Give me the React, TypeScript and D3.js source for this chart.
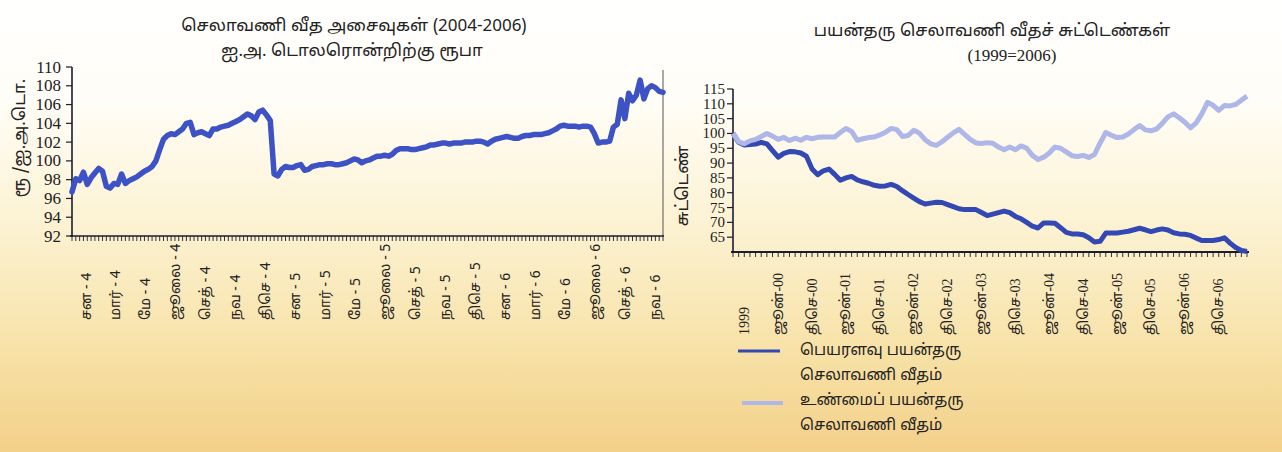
import React from 'react';
import * as d3 from 'd3';

// ---------- LEFT CHART DATA ----------
const leftTitle = ['செலாவணி வீத அசைவுகள் (2004-2006)', 'ஐ.அ. டொலரொன்றிற்கு ரூபா'];
const leftYLabel = 'ரூ /ஐ.அ.டொ.';
const leftYTicks = [92, 94, 96, 98, 100, 102, 104, 106, 108, 110];
const leftXLabels = [
  'சன - 4', 'மார் - 4', 'மே - 4', 'ஜூலை - 4', 'செத் - 4', 'நவ - 4', 'திசெ - 4',
  'சன - 5', 'மார் - 5', 'மே - 5', 'ஜூலை - 5', 'செத் - 5', 'நவ - 5', 'திசெ - 5',
  'சன - 6', 'மார் - 6', 'மே - 6', 'ஜூலை - 6', 'செத் - 6', 'நவ - 6',
];
// weekly rupees per US dollar, 2004-2006
const rupeePerDollar = [
  96.7, 98.1, 97.9, 98.8, 97.5, 98.2, 98.7, 99.2, 98.9, 97.3,
  97.1, 97.6, 97.5, 98.6, 97.6, 97.9, 98.1, 98.3, 98.6, 98.9,
  99.1, 99.4, 100, 101.2, 102.3, 102.7, 102.9, 102.8, 103.1, 103.4,
  104, 104.1, 102.8, 103, 103.1, 102.9, 102.7, 103.4, 103.4, 103.6,
  103.7, 103.8, 104, 104.2, 104.4, 104.7, 105, 104.8, 104.4, 105.2,
  105.4, 104.9, 104.3, 98.6, 98.4, 99.1, 99.4, 99.3, 99.3, 99.5,
  99.6, 99, 99.1, 99.4, 99.5, 99.6, 99.6, 99.7, 99.7, 99.6,
  99.6, 99.7, 99.8, 100, 100.2, 100.1, 99.8, 100, 100.1, 100.3,
  100.5, 100.5, 100.6, 100.5, 100.7, 101.1, 101.3, 101.3, 101.3, 101.2,
  101.2, 101.3, 101.4, 101.5, 101.7, 101.7, 101.8, 101.9, 101.9, 101.8,
  101.9, 101.9, 101.9, 102, 102, 102, 102.1, 102.1, 102, 101.8,
  102.1, 102.3, 102.4, 102.5, 102.6, 102.5, 102.4, 102.4, 102.6, 102.7,
  102.7, 102.8, 102.8, 102.8, 102.9, 103, 103.2, 103.4, 103.7, 103.8,
  103.7, 103.7, 103.7, 103.6, 103.7, 103.7, 103.6, 102.9, 101.9, 102,
  102, 102.1, 103.6, 103.9, 106.5, 104.5, 107.2, 106.4, 107, 108.6,
  106.6, 107.7, 108, 107.8, 107.4, 107.3,
];

// ---------- RIGHT CHART DATA ----------
const rightTitle = ['பயன்தரு செலாவணி வீதச் சுட்டெண்கள்', '(1999=2006)'];
const rightYLabel = 'சுட்டெண்';
const rightYTicks = [65, 70, 75, 80, 85, 90, 95, 100, 105, 110, 115];
const rightXLabels = [
  '1999', 'ஜூன்-00', 'திசெ-00', 'ஜூன்-01', 'திசெ-01', 'ஜூன்-02', 'திசெ-02', 'ஜூன்-03',
  'திசெ-03', 'ஜூன்-04', 'திசெ-04', 'ஜூன்-05', 'திசெ-05', 'ஜூன்-06', 'திசெ-06',
];
const rightXLabelMonth = [2, 8, 14, 20, 26, 32, 38, 44, 50, 56, 62, 68, 74, 80, 86];
// monthly indices
const nominalRate = [
  100, 97, 96.1, 96.3, 96.4, 97, 96.5, 94.2, 92, 93.3,
  93.9, 93.8, 93.4, 92.3, 88, 86.1, 87.4, 88, 86.2, 84.2,
  85, 85.5, 84.3, 83.7, 83.2, 82.5, 82.2, 82.3, 82.8, 82.1,
  80.7, 79.4, 78.2, 77, 76.2, 76.5, 76.8, 76.7, 76, 75.3,
  74.6, 74.3, 74.3, 74.3, 73.3, 72.3, 72.8, 73.3, 73.8, 73.3,
  72, 71.2, 70, 68.7, 68.1, 69.8, 69.8, 69.7, 68.2, 66.6,
  66.1, 66.1, 65.8, 64.8, 63.4, 63.6, 66.4, 66.4, 66.4, 66.7,
  67, 67.5, 68, 67.5, 66.9, 67.4, 67.8, 67.4, 66.5, 66.1,
  66, 65.6, 64.7, 63.9, 63.9, 63.9, 64.2, 64.8, 63, 61.5,
  60.5, 60.2,
];
const realRate = [
  100, 97.2, 96.5, 97.5, 98, 99, 100, 99.1, 98, 98.7,
  97.6, 98.4, 97.7, 98.7, 98.2, 98.7, 98.8, 98.8, 98.8, 100.3,
  101.7, 100.7, 97.7, 98.2, 98.6, 98.8, 99.5, 100.4, 101.7, 101.3,
  99, 99.3, 101.1, 100.1, 97.9, 96.5, 96, 97.2, 98.7, 100.2,
  101.4, 99.7, 98, 96.8, 96.6, 96.9, 96.7, 95.4, 94.5, 95.4,
  94.5, 95.8, 95, 92.6, 91.2, 92, 93.4, 95.4, 95, 93.8,
  92.5, 92.2, 92.6, 91.9, 92.9, 96.8, 100.3, 99.4, 98.6, 98.8,
  99.8, 101.3, 102.7, 101.2, 100.9, 101.5, 103.4, 105.6, 106.6, 105.3,
  103.8, 101.9, 103.6, 106.6, 110.5, 109.5, 107.8, 109.4, 109.3, 109.8,
  111.2, 112.6,
];
const legendLabels = [
  ['பெயரளவு பயன்தரு', 'செலாவணி வீதம்'],
  ['உண்மைப் பயன்தரு', 'செலாவணி வீதம்'],
];

const TAMIL = '"Noto Sans Tamil", "Lohit Tamil", "Latha", "FreeSans", "Noto Sans", sans-serif';
const SERIF = '"Liberation Serif", "Times New Roman", "DejaVu Serif", serif';

const DARK = '#3d52c4';
const NOMINAL = '#3448b4';
const REAL = '#aeb7e8';
const AXIS = '#1c1c30';

export default function App() {
  const W = 1282;
  const H = 452;

  // left scales
  const lx = d3.scaleLinear().domain([0, rupeePerDollar.length - 1]).range([72, 663]);
  const ly = d3.scaleLinear().domain([92, 110]).range([236, 67]);
  const lLab = d3.scalePoint<string>().domain(leftXLabels).range([87, 656]);
  const leftPath = d3
    .line<number>()
    .x((_, i) => lx(i))
    .y((d) => ly(d))(rupeePerDollar) as string;

  // right scales
  const rx = d3.scaleLinear().domain([0, nominalRate.length - 1]).range([733, 1247]);
  const ry = d3.scaleLinear().domain([60, 115]).range([252, 89]);
  const rLine = d3
    .line<number>()
    .x((_, i) => rx(i))
    .y((d) => ry(d));
  const nominalPath = rLine(nominalRate) as string;
  const realPath = rLine(realRate) as string;

  const leftTicksX = d3.range(0, rupeePerDollar.length, 1);
  const rightTicksX = d3.range(0, nominalRate.length, 1);

  return (
    <svg
      width={W}
      height={H}
      viewBox={`0 0 ${W} ${H}`}
      style={{ position: 'absolute', left: 0, top: 0, display: 'block' }}
    >
      <defs>
        <linearGradient id="bg" x1="0" y1="0" x2="0" y2="1">
          <stop offset="0%" stopColor="#ffffff" />
          <stop offset="22%" stopColor="#fffdf7" />
          <stop offset="50%" stopColor="#fcf2d2" />
          <stop offset="78%" stopColor="#f7e1a6" />
          <stop offset="100%" stopColor="#f3d089" />
        </linearGradient>
      </defs>
      <rect x={0} y={0} width={W} height={H} fill="url(#bg)" />

      {/* ---------- LEFT CHART ---------- */}
      <g fontFamily={TAMIL} fill="#222">
        <text x={354} y={31} textAnchor="middle" fontSize={17}>{leftTitle[0]}</text>
        <text x={352} y={56} textAnchor="middle" fontSize={17}>{leftTitle[1]}</text>
      </g>
      <text
        transform={`translate(20,138) rotate(-90)`}
        textAnchor="middle"
        dominantBaseline="central"
        fontFamily={TAMIL}
        fontSize={17}
        fill="#222"
      >
        {leftYLabel}
      </text>
      {leftYTicks.map((t) => (
        <g key={`ly${t}`}>
          <line x1={66} x2={72} y1={ly(t)} y2={ly(t)} stroke={AXIS} strokeWidth={1.2} />
          <text
            x={61}
            y={ly(t)}
            textAnchor="end"
            dominantBaseline="central"
            fontFamily={SERIF}
            fontSize={17}
            fill="#222"
          >
            {t}
          </text>
        </g>
      ))}
      <line x1={72} x2={72} y1={ly(110)} y2={ly(92) + 1} stroke={AXIS} strokeWidth={1.6} />
      <line x1={663} x2={663} y1={70} y2={ly(92)} stroke="#555" strokeWidth={1} />
      <line x1={70} x2={664} y1={ly(92)} y2={ly(92)} stroke={AXIS} strokeWidth={1.6} />
      {leftTicksX.map((i) => (
        <line key={`lt${i}`} x1={lx(i)} x2={lx(i)} y1={ly(92)} y2={ly(92) + 5} stroke={AXIS} strokeWidth={0.9} />
      ))}
      <path d={leftPath} fill="none" stroke={DARK} strokeWidth={5.5} strokeLinejoin="round" strokeLinecap="round" />
      {leftXLabels.map((l) => (
        <text
          key={`lx${l}`}
          transform={`translate(${lLab(l)},320) rotate(-90)`}
          textAnchor="start"
          dominantBaseline="central"
          fontFamily={TAMIL}
          fontSize={14}
          fill="#222"
        >
          {l}
        </text>
      ))}

      {/* ---------- RIGHT CHART ---------- */}
      <g fontFamily={TAMIL} fill="#222">
        <text x={992} y={36} textAnchor="middle" fontSize={17}>{rightTitle[0]}</text>
      </g>
      <text x={1012} y={61} textAnchor="middle" fontFamily={SERIF} fontSize={17} fill="#222">
        {rightTitle[1]}
      </text>
      <text
        transform={`translate(683,186) rotate(-90)`}
        textAnchor="middle"
        dominantBaseline="central"
        fontFamily={TAMIL}
        fontSize={17}
        fill="#222"
      >
        {rightYLabel}
      </text>
      {rightYTicks.map((t) => (
        <g key={`ry${t}`}>
          <line x1={727} x2={733} y1={ry(t)} y2={ry(t)} stroke={AXIS} strokeWidth={1.2} />
          <text
            x={725}
            y={ry(t)}
            textAnchor="end"
            dominantBaseline="central"
            fontFamily={SERIF}
            fontSize={15}
            fill="#222"
          >
            {t}
          </text>
        </g>
      ))}
      <line x1={733} x2={733} y1={ry(115)} y2={ry(60)} stroke={AXIS} strokeWidth={1.6} />
      <line x1={731} x2={1249} y1={ry(60)} y2={ry(60)} stroke={AXIS} strokeWidth={1.8} />
      {rightTicksX.map((i) => (
        <line key={`rt${i}`} x1={rx(i)} x2={rx(i)} y1={ry(60)} y2={ry(60) + 5} stroke={AXIS} strokeWidth={0.9} />
      ))}
      <path d={nominalPath} fill="none" stroke={NOMINAL} strokeWidth={5} strokeLinejoin="round" />
      <path d={realPath} fill="none" stroke={REAL} strokeWidth={5} strokeLinejoin="round" />
      {rightXLabels.map((l, i) => (
        <text
          key={`rx${l}`}
          transform={`translate(${rx(rightXLabelMonth[i])},335) rotate(-90)`}
          textAnchor="start"
          dominantBaseline="central"
          fontFamily={i === 0 ? SERIF : `${SERIF.split(',')[0]}, ${TAMIL}`}
          fontSize={14}
          fill="#222"
        >
          {l}
        </text>
      ))}

      {/* legend */}
      <line x1={738} x2={780} y1={351} y2={351} stroke={NOMINAL} strokeWidth={3} />
      <line x1={742} x2={783} y1={403} y2={403} stroke={REAL} strokeWidth={4} />
      <g fontFamily={TAMIL} fontSize={15.5} fill="#222">
        <text x={800} y={351} dominantBaseline="central">{legendLabels[0][0]}</text>
        <text x={800} y={376} dominantBaseline="central">{legendLabels[0][1]}</text>
        <text x={800} y={401} dominantBaseline="central">{legendLabels[1][0]}</text>
        <text x={800} y={426} dominantBaseline="central">{legendLabels[1][1]}</text>
      </g>
    </svg>
  );
}
